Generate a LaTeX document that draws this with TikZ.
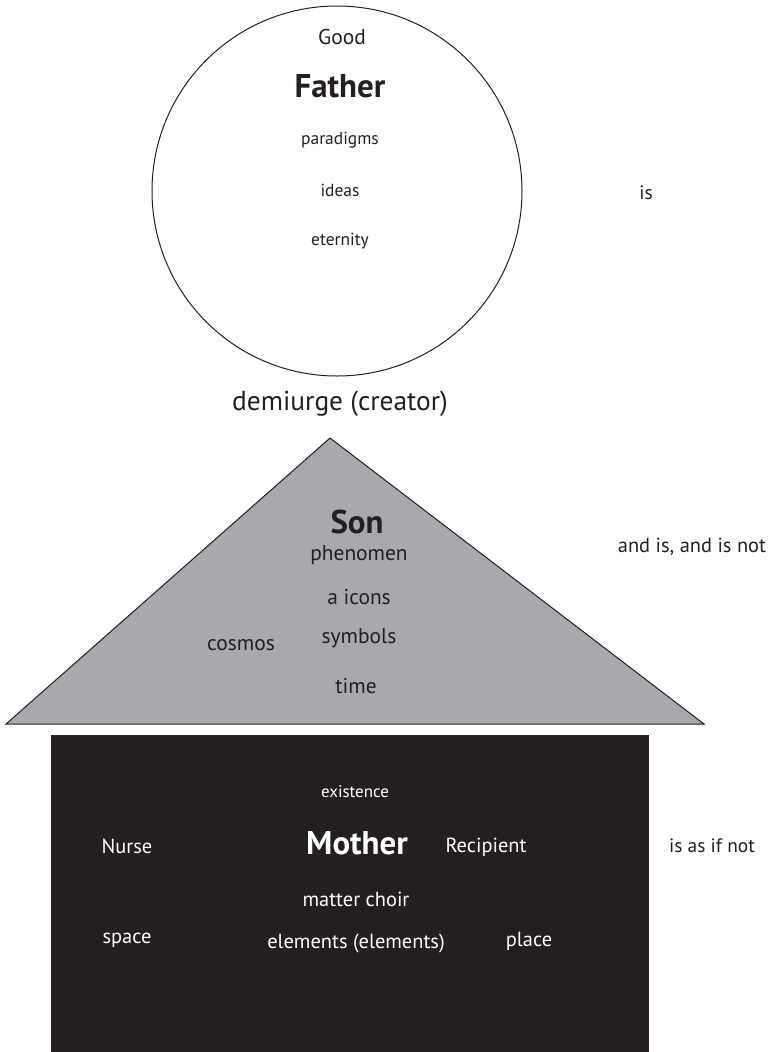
\documentclass[tikz,border=0pt]{standalone}
\usepackage{fontspec}
\setmainfont{PT Sans}
\begin{document}
\begin{tikzpicture}[x=1bp,y=-1bp,
  ink/.style={draw=inkc, line width=1bp},
  lbl/.style={inner sep=0pt, text=inkc, font=\fontsize{#1}{#1}\selectfont},
  lbl/.default=20,
  head/.style={inner sep=0pt, text=inkc, font=\fontsize{33}{33}\selectfont\bfseries},
  wlbl/.style={inner sep=0pt, text=white, font=\fontsize{#1}{#1}\selectfont},
  wlbl/.default=20.5,
  whead/.style={inner sep=0pt, text=white, font=\fontsize{33}{33}\selectfont\bfseries}]
\definecolor{inkc}{HTML}{231F20}
\definecolor{sonfill}{HTML}{A7A9AC}
\useasboundingbox (0,0) rectangle (770,1052);

% Father: the circle
\node[circle, ink, minimum size=370bp, inner sep=0pt] (father) at (337,191) {};
\node[lbl=21.5] (good) at (342,37) {Good};
\node[head] (fathert) at (340,86) {Father};
\node[lbl=17.5] (paradigms) at (340,140) {paradigms};
\node[lbl=17.5] (ideas) at (340,190) {ideas};
\node[lbl=17.5] (eternity) at (340,241) {eternity};
\node[lbl=19.5] (is) at (646,193) {is};

\node[lbl=27.5] (demiurge) at (340,404) {demiurge (creator)};

% Son: the triangle
\coordinate (apex) at (330,438);
\coordinate (bl) at (6,724);
\coordinate (br) at (704,724);
\draw[ink, fill=sonfill, line join=miter] (apex) -- (br) -- (bl) -- cycle;
\node[head] (son) at (357,522) {Son};
\node[lbl=21.5] (phenomen) at (359,555) {phenomen};
\node[lbl=21.5] (icons) at (359,597) {a icons};
\node[lbl=21.5] (symbols) at (359,638) {symbols};
\node[lbl=21.5] (cosmos) at (241,645) {cosmos};
\node[lbl=21.5] (time) at (356,686) {time};
\node[lbl=20.5] (andis) at (692,547) {and is, and is not};

% Mother: the dark rectangle
\fill[inkc] (51,735) rectangle (649,1052);
\node[wlbl=17] (existence) at (355,792) {existence};
\node[wlbl] (nurse) at (127,846) {Nurse};
\node[whead] (mother) at (357,843) {Mother};
\node[wlbl] (recipient) at (486,847) {Recipient};
\node[wlbl] (matter) at (356,899) {matter choir};
\node[wlbl] (space) at (127,940) {space};
\node[wlbl] (elements) at (356,943) {elements (elements)};
\node[wlbl] (place) at (529,941) {place};
\node[lbl=19.5] (asifnot) at (712,846) {is as if not};
\end{tikzpicture}
\end{document}
